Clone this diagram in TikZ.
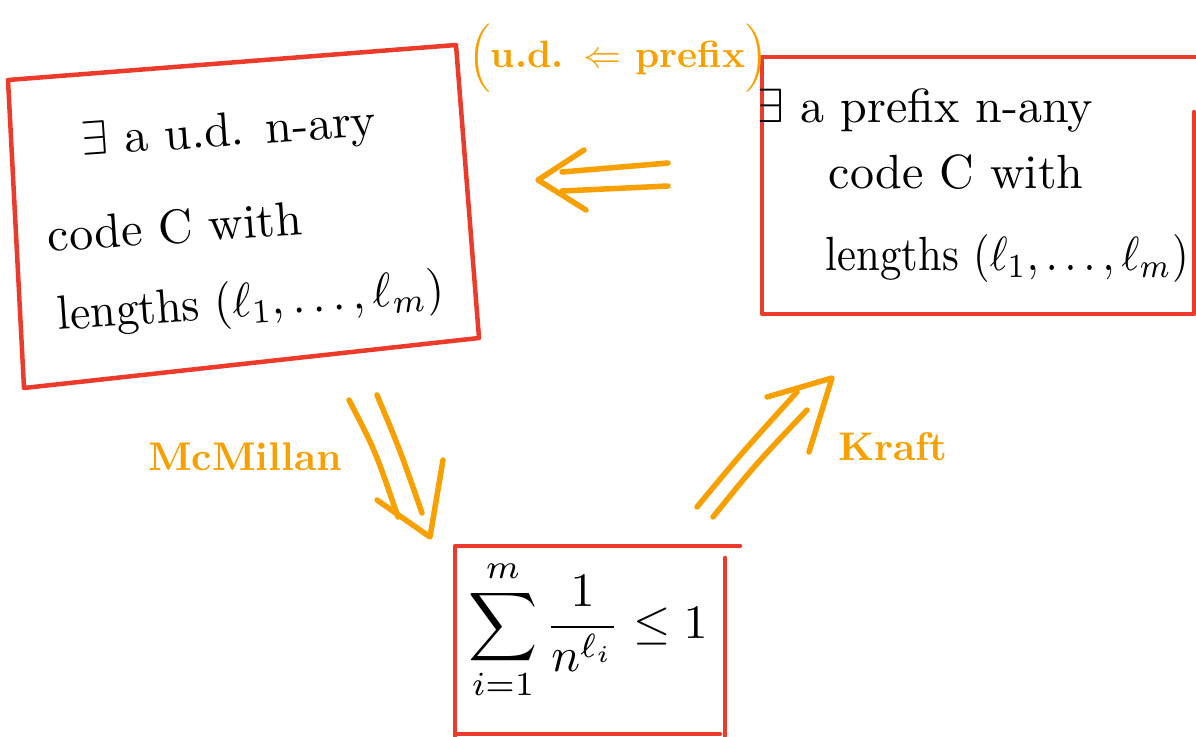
\documentclass[tikz,border=0pt]{standalone}
\usepackage{amsmath}
\definecolor{boxred}{RGB}{236,59,43}
\definecolor{penorange}{RGB}{248,160,0}
\tikzset{
  frame/.style={draw=boxred, line width=4.5pt, line join=round, line cap=round},
  pen/.style={draw=penorange, line width=5.5pt, line cap=round, line join=round},
  hand/.style={scale=4.8, inner sep=0pt, anchor=base west},
  note/.style={text=penorange, scale=4, inner sep=0pt},
}
\begin{document}
\begin{tikzpicture}[x=1pt,y=-1pt]
\useasboundingbox (0,0) rectangle (1196,736);

% uniquely decodable code (left)
\draw[frame] (8,80) -- (456,45) -- (479,338) -- (24,388) -- cycle;
\node[hand, rotate=4] (ud1) at (82,156) {$\exists$ a u.d. n-ary};
\node[hand, rotate=4] (ud2) at (48,252) {code C with};
\node[hand, rotate=4, xscale=0.95] (ud3) at (58,330) {lengths ($\ell_1,\dots,\ell_m$)};

% prefix code (right)
\draw[frame] (762,57) -- (1196,57);
\draw[frame] (762,57) -- (762,314) -- (1194,314) -- (1194,112);
\node[hand] (pf1) at (757,122) {$\exists$ a prefix n-any};
\node[hand] (pf2) at (828,188) {code C with};
\node[hand, xscale=0.89] (pf3) at (825,270) {lengths ($\ell_1,\dots,\ell_m$)};

% Kraft inequality (bottom)
\draw[frame] (740,546) -- (455,546) -- (455,736);
\draw[frame] (725,558) -- (725,736);
\draw[frame] (455,734) -- (720,734);
\node[inner sep=0pt, scale=4.8] (ineq) at (588,630)
  {$\displaystyle\sum_{i=1}^{m}\frac{1}{n^{\ell_i}}\le 1$};

% implication: prefix => u.d.
\coordinate (pa1) at (668,163); \coordinate (pa2) at (562,172);
\coordinate (pb1) at (668,186); \coordinate (pb2) at (562,191);
\coordinate (ph1) at (584,150); \coordinate (ptip) at (538,180); \coordinate (ph2) at (586,210);
\draw[pen] (pa1) -- (pa2);
\draw[pen] (pb1) -- (pb2);
\draw[pen] (ph1) -- (ptip) -- (ph2);
\node[note, scale=0.95, font=\bfseries] (udlabel) at (618,58) {$\Big($u.d. $\Leftarrow$ prefix$\Big)$};

% McMillan: u.d. => inequality
\coordinate (ma1) at (349,400); \coordinate (ma2) at (398,517);
\coordinate (mb1) at (377,395); \coordinate (mb2) at (422,513);
\coordinate (mh1) at (377,500); \coordinate (mtip) at (430,537); \coordinate (mh2) at (443,460);
\draw[pen] (ma1) .. controls (375,450) .. (ma2);
\draw[pen] (mb1) .. controls (400,450) .. (mb2);
\draw[pen] (mh1) -- (mtip) -- (mh2);
\node[note, font=\bfseries] (mcm) at (245,457) {McMillan};

% Kraft: inequality => prefix
\coordinate (ka1) at (697,507); \coordinate (ka2) at (797,392);
\coordinate (kb1) at (713,517); \coordinate (kb2) at (807,410);
\coordinate (kh1) at (767,397); \coordinate (ktip) at (832,378); \coordinate (kh2) at (809,452);
\draw[pen] (ka1) .. controls (740,455) .. (ka2);
\draw[pen] (kb1) .. controls (755,465) .. (kb2);
\draw[pen] (kh1) -- (ktip) -- (kh2);
\node[note, font=\bfseries] (kraft) at (893,447) {Kraft};
\end{tikzpicture}
\end{document}
